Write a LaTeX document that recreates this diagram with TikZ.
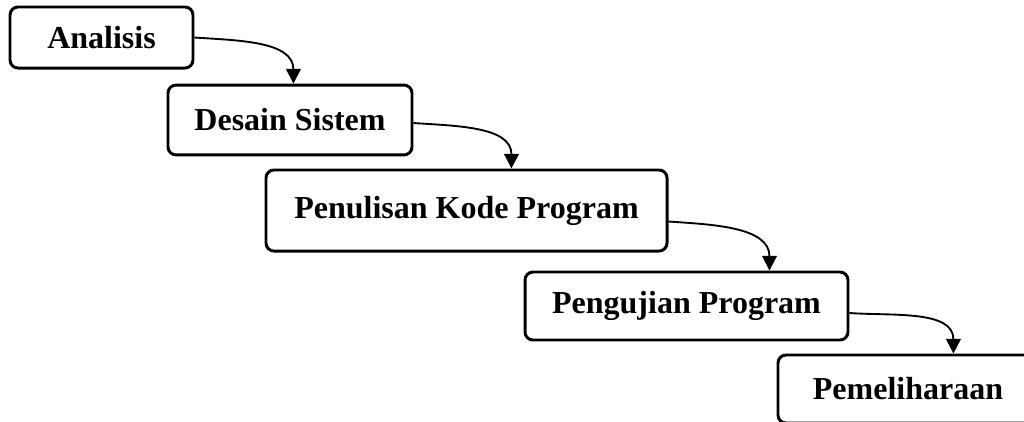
\documentclass[tikz,border=0pt]{standalone}
\usepackage{fontspec}
\setmainfont{Liberation Serif}
\usetikzlibrary{arrows.meta, calc}

\begin{document}
\begin{tikzpicture}[
    x=0.375pt, y=0.375pt,
    box/.style={draw, rounded corners=3pt, line width=1.1pt, align=center, inner sep=0pt,
                font=\fontsize{12}{14}\selectfont\bfseries},
    arr/.style={-{Triangle[length=5.5pt,width=5.5pt]}, line width=0.7pt}
]
\path[use as bounding box, clip] (0,0) rectangle (1024,-421);

\node[box, minimum width=68.6pt, minimum height=22.9pt] (ana) at (101.5,-37.5) {Analisis};
\node[box, minimum width=91.5pt, minimum height=26.2pt] (desain) at (290,-120) {Desain Sistem};
\node[box, minimum width=150.4pt, minimum height=30.4pt] (kode) at (466.5,-210.5) {Penulisan Kode Program};
\node[box, minimum width=121.1pt, minimum height=25.5pt] (uji) at (686.5,-306) {Pengujian Program};
\node[box, minimum width=97.5pt, minimum height=25.5pt] (pelihara) at (908,-389) {Pemeliharaan};

% x of each arrow tip
\coordinate (t1) at ($(ana.east)+(99,0)$);
\coordinate (t2) at ($(desain.east)+(98,0)$);
\coordinate (t3) at ($(kode.east)+(101,0)$);
\coordinate (t4) at ($(uji.east)+(104,0)$);

\draw[arr] (ana.east) to[out=-4,in=90] (t1 |- desain.north);
\draw[arr] ($(desain.east)+(0,-3)$) to[out=-4,in=90] (t2 |- kode.north);
\draw[arr] ($(kode.east)+(0,-11)$) to[out=-4,in=90] (t3 |- uji.north);
\draw[arr] ($(uji.east)+(0,-7)$) to[out=-4,in=90] (t4 |- pelihara.north);
\end{tikzpicture}
\end{document}
